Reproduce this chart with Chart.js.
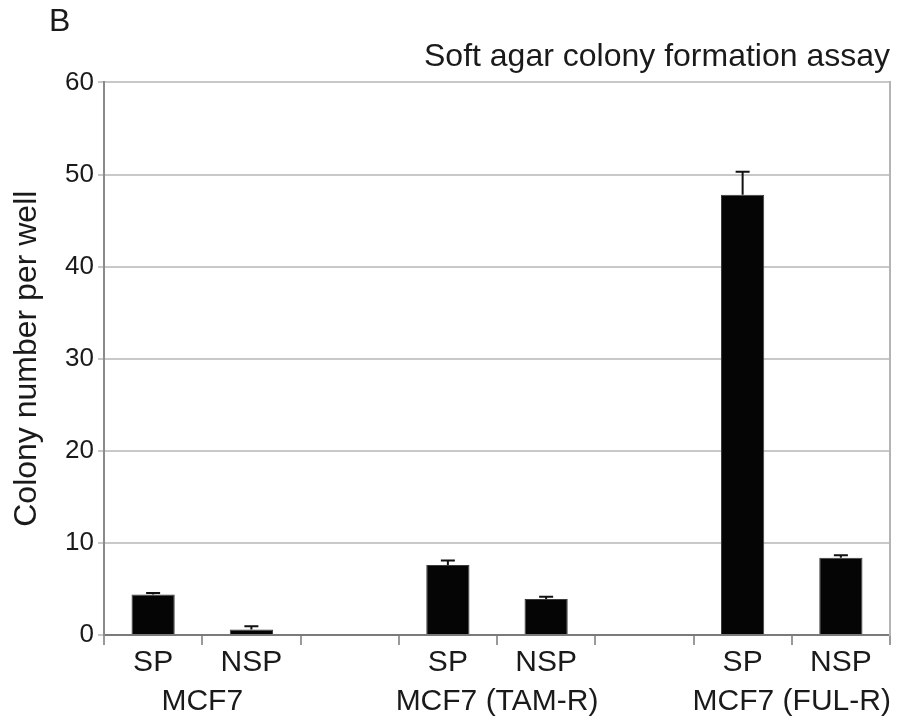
<!DOCTYPE html>
<html>
<head>
<meta charset="utf-8">
<script src="https://cdn.jsdelivr.net/npm/chart.js@4.4.0/dist/chart.umd.min.js"></script>
<style>
  html, body { margin: 0; padding: 0; background: #fff; }
  #wrap { width: 909px; height: 724px; }
</style>
</head>
<body>
<div id="wrap"><canvas id="colony-chart" width="909" height="724"></canvas></div>
<script>
// Soft agar colony formation
const categories = ['SP', 'NSP', '', 'SP', 'NSP', '', 'SP', 'NSP'];
const colonyMeans = [4.4, 0.6, null, 7.6, 3.9, null, 47.8, 8.4];
const colonyErrors = [0.15, 0.35, null, 0.5, 0.25, null, 2.5, 0.25];
const groupLabels = ['MCF7', 'MCF7 (TAM-R)', 'MCF7 (FUL-R)'];
const groupStarts = [0, 3, 6];

const FONT = 'Liberation Sans, Arial, Helvetica, sans-serif';
const TEXT = '#1a1a1a';

// upward error bars with a cap
const errorBars = {
  id: 'errorBars',
  afterDatasetsDraw(chart) {
    const ctx = chart.ctx;
    const y = chart.scales.y;
    const meta = chart.getDatasetMeta(0);
    ctx.save();
    ctx.strokeStyle = '#111';
    ctx.lineWidth = 2;
    meta.data.forEach((bar, i) => {
      const v = colonyMeans[i];
      const e = colonyErrors[i];
      if (v == null || e == null) return;
      const top = y.getPixelForValue(v + e);
      ctx.beginPath();
      ctx.moveTo(bar.x, y.getPixelForValue(v));
      ctx.lineTo(bar.x, top);
      ctx.moveTo(bar.x - 7, top);
      ctx.lineTo(bar.x + 7, top);
      ctx.stroke();
    });
    ctx.restore();
  }
};

// group names under the SP/NSP labels, plus panel letter
const extraText = {
  id: 'extraText',
  afterDraw(chart) {
    const ctx = chart.ctx;
    const x = chart.scales.x;
    ctx.save();
    ctx.fillStyle = TEXT;
    ctx.font = '30px ' + FONT;
    ctx.textAlign = 'center';
    ctx.textBaseline = 'middle';
    groupLabels.forEach((label, i) => {
      const s = groupStarts[i];
      const cx = (x.getPixelForValue(s) + x.getPixelForValue(s + 1)) / 2;
      ctx.fillText(label, cx, chart.chartArea.bottom + 67);
    });
    ctx.font = '32px ' + FONT;
    ctx.textAlign = 'left';
    ctx.fillText('B', 49, 22);
    ctx.restore();
  }
};

const ctx = document.getElementById('colony-chart').getContext('2d');
new Chart(ctx, {
  type: 'bar',
  data: {
    labels: categories,
    datasets: [{
      data: colonyMeans,
      backgroundColor: '#050505',
      borderColor: '#3a3a3a',
      borderWidth: 1,
      barPercentage: 0.44,
      categoryPercentage: 1.0
    }]
  },
  options: {
    responsive: false,
    animation: false,
    devicePixelRatio: 1,
    layout: { padding: { right: 19, left: 0, bottom: 0 } },
    plugins: {
      legend: { display: false },
      tooltip: { enabled: false },
      title: {
        display: true,
        text: 'Soft agar colony formation assay',
        align: 'end',
        color: TEXT,
        font: { family: FONT, size: 32, weight: 'normal' },
        padding: { top: 38, bottom: 6 }
      }
    },
    scales: {
      x: {
        grid: {
          drawOnChartArea: false,
          color: '#9a9a9a',
          lineWidth: 2,
          tickLength: 10,
          offset: true
        },
        border: { color: '#7a7a7a', width: 2 },
        ticks: {
          color: TEXT,
          font: { family: FONT, size: 30 },
          padding: 0,
          maxRotation: 0,
          autoSkip: false
        },
        afterFit(scale) { scale.height = 89; }
      },
      y: {
        min: 0,
        max: 60,
        ticks: {
          stepSize: 10,
          color: TEXT,
          font: { family: FONT, size: 26 },
          padding: 4
        },
        grid: { color: '#c8c8c8', lineWidth: 2, tickLength: 6 },
        border: { color: '#8a8a8a', width: 2 },
        title: {
          display: true,
          text: 'Colony number per well',
          color: TEXT,
          font: { family: FONT, size: 32 },
          padding: { top: 8, bottom: 0 }
        },
        afterFit(scale) { scale.width = 104; }
      },
      yRight: {
        position: 'right',
        min: 0,
        max: 60,
        ticks: { display: false },
        grid: { drawOnChartArea: false, drawTicks: false },
        border: { color: '#b4b4b4', width: 2 },
        afterFit(scale) { scale.width = 0; }
      }
    }
  },
  plugins: [errorBars, extraText]
});
</script>
</body>
</html>
